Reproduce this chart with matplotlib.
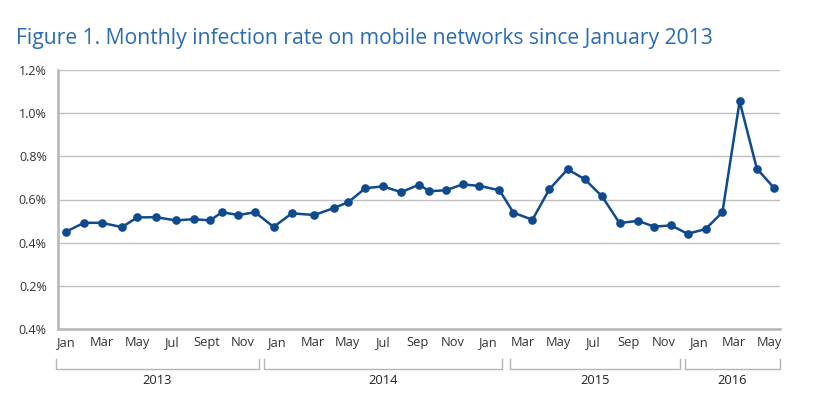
import matplotlib
matplotlib.use("Agg")
import matplotlib.pyplot as plt
import matplotlib.transforms as mtransforms

# Data (x in units of tick-label slots, y in %)
x_pos = [-0.02, 0.49, 0.99, 1.57, 2.01, 2.54, 3.11, 3.62, 4.08, 4.42, 4.89, 5.36,
         5.89, 6.41, 7.05, 7.60, 8.02, 8.50, 9.00, 9.52, 10.04, 10.32, 10.80, 11.27,
         11.75, 12.32, 12.72, 13.26, 13.74, 14.26, 14.75, 15.24, 15.74, 16.27, 16.73,
         17.21, 17.68, 18.19, 18.67, 19.16, 19.65, 20.15]
rate = [0.451, 0.492, 0.492, 0.472, 0.517, 0.518, 0.503, 0.509, 0.503, 0.541, 0.528, 0.541,
        0.473, 0.536, 0.528, 0.560, 0.588, 0.652, 0.661, 0.634, 0.669, 0.638, 0.643, 0.670,
        0.663, 0.643, 0.539, 0.506, 0.647, 0.740, 0.694, 0.615, 0.491, 0.501, 0.474,
        0.480, 0.441, 0.463, 0.541, 1.055, 0.743, 0.652]

month_labels = ["Jan", "Mar", "May", "Jul", "Sept", "Nov",
                "Jan", "Mar", "May", "Jul", "Sep", "Nov",
                "Jan", "Mar", "May", "Jul", "Sep", "Nov",
                "Jan", "Mar", "May"]
y_ticks = [0.0, 0.2, 0.4, 0.6, 0.8, 1.0, 1.2]
y_labels = ["0.4%", "0.2%", "0.4%", "0.6%", "0.8%", "1.0%", "1.2%"]

years = ["2013", "2014", "2015", "2016"]
year_spans = [(-0.32, 5.46), (5.63, 12.39), (12.61, 17.45), (17.60, 20.31)]

plt.rcParams['font.family'] = ['Open Sans', 'DejaVu Sans']

fig = plt.figure(figsize=(8.39, 4.2), dpi=100)
ax = fig.add_axes([0.0691, 0.2167, 0.8606, 0.6166])

line_col = "#0f4a8e"
grid_col = "#bfbfbf"
text_col = "#333333"

ax.plot(x_pos, rate, color=line_col, linewidth=1.8, marker="o", markersize=5.2,
        zorder=3, clip_on=False)

ax.set_xlim(-0.25, 20.31)
ax.set_ylim(0, 1.2)
ax.set_yticks(y_ticks)
ax.set_yticklabels(y_labels, fontsize=9, color=text_col)
ax.set_xticks(range(len(month_labels)))
ax.set_xticklabels(month_labels, fontsize=9.3, color=text_col)
ax.tick_params(axis="both", length=0, pad=5)
ax.tick_params(axis="y", pad=8)

ax.yaxis.grid(True, color=grid_col, linewidth=1.0)
ax.set_axisbelow(True)
for side in ["top", "right"]:
    ax.spines[side].set_visible(False)
ax.spines["left"].set_color("#b5b5bb")
ax.spines["left"].set_linewidth(1.8)
ax.spines["bottom"].set_color("#b5b5bb")
ax.spines["bottom"].set_linewidth(1.8)

# year brackets below the month labels
trans = mtransforms.blended_transform_factory(ax.transData, ax.transAxes)
y_top, y_bot = -0.117, -0.156
for year, (x0, x1) in zip(years, year_spans):
    ax.plot([x0, x0, x1, x1], [y_top, y_bot, y_bot, y_top], transform=trans,
            color="#b5b5b5", linewidth=1.0, clip_on=False)
    ax.text((x0 + x1) / 2, -0.198, year, transform=trans, ha="center", va="center",
            fontsize=9.3, color="#222222")

fig.text(0.019, 0.895, "Figure 1. Monthly infection rate on mobile networks since January 2013",
         fontsize=15.2, color="#2a6cb4", ha="left", va="baseline")

fig.savefig("out.png", dpi=100)
